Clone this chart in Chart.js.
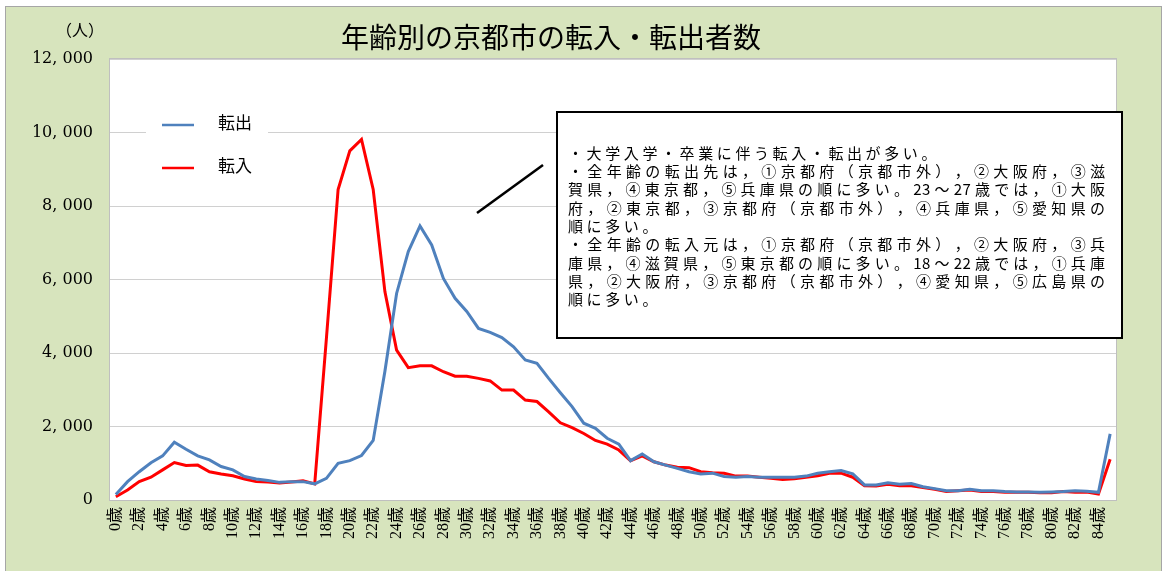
<!DOCTYPE html>
<html lang="ja">
<head>
<meta charset="UTF-8">
<title>年齢別の京都市の転入・転出者数</title>
<script src="https://cdn.jsdelivr.net/npm/chart.js"></script>
<style>
  html, body { margin: 0; padding: 0; background: #fff; }
  #wrap { width: 1167px; height: 571px; }
</style>
</head>
<body>
<div id="wrap"><canvas id="migChart" width="1167" height="571"></canvas></div>
<script>
// 年齢（0歳〜85歳）
const ages = [];
for (let a = 0; a <= 85; a++) ages.push(a + '歳');

// 転出者数
const tenshutsu = [
  150, 500, 770, 1015, 1200, 1570, 1380, 1200, 1090, 910,
  820, 640, 570, 530, 480, 500, 500, 440, 590, 1000,
  1070, 1210, 1620, 3500, 5620, 6760, 7460, 6940, 6030, 5490,
  5130, 4670, 4560, 4420, 4170, 3810, 3720, 3310, 2920, 2540,
  2090, 1950, 1680, 1520, 1070, 1250, 1040, 950, 860, 770,
  710, 730, 640, 620, 640, 620, 620, 620, 620, 650,
  730, 770, 800, 710, 410, 410, 470, 430, 450, 360,
  310, 250, 250, 290, 250, 250, 230, 220, 220, 210,
  220, 230, 250, 240, 210, 1800
];

// 転入者数
const tennyu = [
  90, 270, 500, 620, 820, 1020, 940, 950, 770, 710,
  660, 570, 500, 490, 460, 490, 520, 440, 4400, 8450,
  9500, 9810, 8450, 5670, 4080, 3600, 3650, 3650, 3490, 3370,
  3370, 3310, 3240, 2990, 2990, 2720, 2680, 2400, 2100, 1970,
  1810, 1620, 1520, 1360, 1070, 1200, 1040, 950, 890, 880,
  770, 740, 730, 650, 650, 620, 590, 560, 580, 620,
  660, 730, 730, 620, 390, 380, 430, 390, 390, 340,
  290, 230, 250, 270, 230, 230, 210, 210, 210, 200,
  200, 230, 210, 220, 160, 1110
];

const yTicks = [0, 2000, 4000, 6000, 8000, 10000, 12000];

// [text, justify to box width]
const noteLines = [
  ['・大学入学・卒業に伴う転入・転出が多い。', false],
  ['・全年齢の転出先は，①京都府（京都市外），②大阪府，③滋', true],
  ['賀県，④東京都，⑤兵庫県の順に多い。23～27歳では，①大阪', true],
  ['府，②東京都，③京都府（京都市外），④兵庫県，⑤愛知県の', true],
  ['順に多い。', false],
  ['・全年齢の転入元は，①京都府（京都市外），②大阪府，③兵', true],
  ['庫県，④滋賀県，⑤東京都の順に多い。18～22歳では，①兵庫', true],
  ['県，②大阪府，③京都府（京都市外），④愛知県，⑤広島県の', true],
  ['順に多い。', false]
];

const serif = "'Liberation Serif', 'Noto Sans CJK JP', serif";
const numSerif = "'DejaVu Serif', serif";
const gothic = "'Noto Sans CJK JP', sans-serif";

function isHalf(c) { return c.charCodeAt(0) < 0x7f; }

const framePlugin = {
  id: 'frame',
  beforeDraw(chart) {
    const ctx = chart.ctx;
    ctx.save();
    ctx.fillStyle = '#ffffff';
    ctx.fillRect(0, 0, chart.width, chart.height);
    ctx.fillStyle = '#d7e4bd';
    ctx.fillRect(6, 7, 1155, 570);
    ctx.strokeStyle = '#a6a6a6';
    ctx.lineWidth = 1;
    ctx.strokeRect(5.5, 6.5, 1156, 570);
    const a = chart.chartArea;
    ctx.fillStyle = '#ffffff';
    ctx.fillRect(a.left, a.top, a.right - a.left, a.bottom - a.top);
    ctx.restore();
  },
  afterDraw(chart) {
    const ctx = chart.ctx;
    const a = chart.chartArea;
    ctx.save();
    ctx.strokeStyle = '#bfbfbf';
    ctx.lineWidth = 1;
    ctx.strokeRect(a.left - 0.5, a.top - 0.5, a.right - a.left + 1, a.bottom - a.top + 1);

    // title and unit
    ctx.fillStyle = '#000';
    ctx.textBaseline = 'middle';
    ctx.textAlign = 'center';
    ctx.font = '28px ' + gothic;
    ctx.fillText('年齢別の京都市の転入・転出者数', 551, 37);
    ctx.font = '16px ' + serif;
    ctx.fillText('（人）', 80, 32);

    // legend
    ctx.fillStyle = '#ffffff';
    ctx.fillRect(146, 105, 122, 80);
    chart.data.datasets.forEach((ds, i) => {
      const y = 125 + i * 43;
      ctx.strokeStyle = ds.borderColor;
      ctx.lineWidth = 2.5;
      ctx.beginPath();
      ctx.moveTo(162, y);
      ctx.lineTo(194, y);
      ctx.stroke();
      ctx.fillStyle = '#000';
      ctx.textAlign = 'left';
      ctx.font = '17px ' + serif;
      ctx.fillText(ds.label, 218, y);
    });

    // callout line
    ctx.strokeStyle = '#000';
    ctx.lineWidth = 2.5;
    ctx.beginPath();
    ctx.moveTo(477, 213);
    ctx.lineTo(543, 165);
    ctx.stroke();

    // note box
    ctx.fillStyle = '#fff';
    ctx.fillRect(557, 112, 565, 226);
    ctx.lineWidth = 2;
    ctx.strokeRect(557, 112, 565, 226);
    ctx.fillStyle = '#000';
    ctx.font = '15px ' + gothic;
    ctx.textAlign = 'left';
    const x0 = 568, w = 537;
    noteLines.forEach(([txt, justify], i) => {
      const y = 153 + i * 18.3;
      const chars = Array.from(txt);
      const widths = chars.map(c => ctx.measureText(c).width);
      const total = widths.reduce((s, v) => s + v, 0);
      // gaps between half-width pairs stay tight
      let tight = 0;
      for (let k = 0; k < chars.length - 1; k++) {
        if (isHalf(chars[k]) && isHalf(chars[k + 1])) tight++;
      }
      const loose = chars.length - 1 - tight;
      const gap = justify ? (w - total - tight * 0.5) / loose : 3.6;
      let x = x0;
      chars.forEach((c, k) => {
        ctx.fillText(c, x, y);
        const next = chars[k + 1];
        const g = next && isHalf(c) && isHalf(next) ? 0.5 : gap;
        x += widths[k] + g;
      });
    });
    ctx.restore();
  }
};

new Chart(document.getElementById('migChart'), {
  type: 'line',
  data: {
    labels: ages,
    datasets: [
      {
        label: '転出',
        data: tenshutsu,
        borderColor: '#4f81bd',
        backgroundColor: '#4f81bd',
        borderWidth: 3,
        pointRadius: 0,
        tension: 0
      },
      {
        label: '転入',
        data: tennyu,
        borderColor: '#ff0000',
        backgroundColor: '#ff0000',
        borderWidth: 3,
        pointRadius: 0,
        tension: 0
      }
    ]
  },
  options: {
    responsive: false,
    animation: false,
    layout: { padding: { top: 59, right: 51, left: 0, bottom: 0 } },
    plugins: {
      legend: { display: false },
      title: { display: false },
      tooltip: { enabled: false }
    },
    scales: {
      x: {
        offset: true,
        grid: { display: false, drawTicks: false },
        border: { display: false },
        ticks: {
          autoSkip: false,
          maxRotation: 90,
          minRotation: 90,
          padding: 7,
          color: '#000',
          font: { family: serif, size: 16 },
          callback: function (v, i) { return i % 2 === 0 ? ages[i] : ''; }
        },
        afterFit(scale) { scale.height = 71; }
      },
      y: {
        min: 0,
        max: 12000,
        afterBuildTicks(scale) { scale.ticks = yTicks.map(v => ({ value: v })); },
        grid: { color: '#d0d0d0', lineWidth: 1, drawTicks: false },
        border: { display: false },
        ticks: {
          padding: 17,
          color: '#000',
          font: { family: numSerif, size: 16 },
          callback: v => v.toLocaleString('en-US').replace(',', ', ')
        },
        afterFit(scale) { scale.width = 110; }
      }
    }
  },
  plugins: [framePlugin]
});
</script>
</body>
</html>
